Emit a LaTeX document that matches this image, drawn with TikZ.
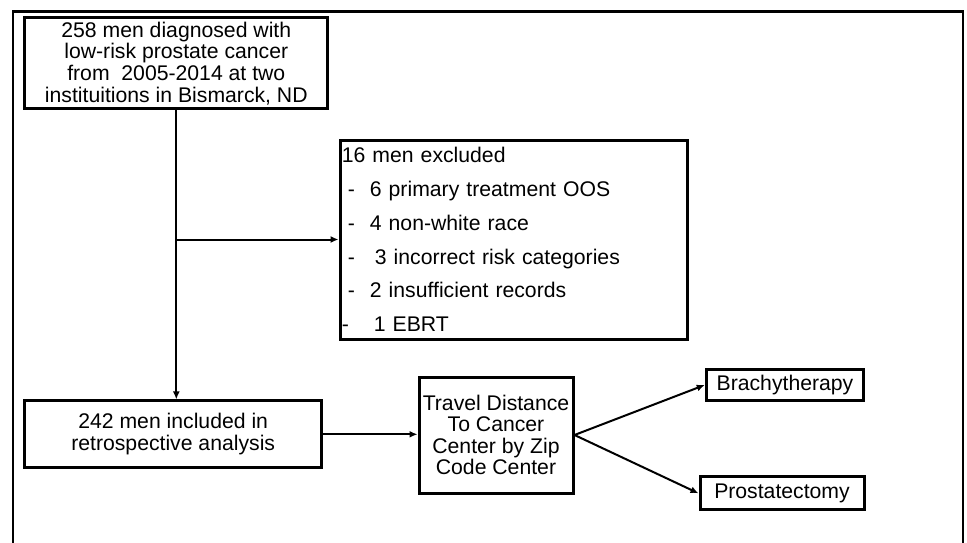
\documentclass[tikz,border=0pt]{standalone}
\usepackage{fontspec}
\setmainfont{Liberation Sans}
\usetikzlibrary{arrows.meta,positioning}

\begin{document}
\begin{tikzpicture}[x=1pt,y=-1pt,every node/.style={inner sep=1pt}]
\tikzstyle{block}=[draw,line width=3pt,align=center,font=\fontsize{21.2}{21.6}\selectfont]
\tikzstyle{arrow}=[draw,line width=2pt,-{Latex[length=8pt,width=7pt]}]
\useasboundingbox (0,0) rectangle (967,543);
\draw[line width=2.2pt] (13,560) -- (13,11.5) -- (963,11.5) -- (963,560);

\node[block,minimum width=302.7pt,minimum height=91.3pt](diag) at (176.3,63.3){258 men diagnosed with\\low-risk prostate cancer\\from\ \ 2005-2014 at two\\instituitions in Bismarck, ND};

\node[block,align=left,text width=344pt,inner xsep=1.8pt,minimum height=199pt,
  font=\fontsize{21.2}{33.7}\selectfont](excl) at (513.8,239.5){16 men excluded\\
  \hspace*{6pt}-\hspace{15pt}6 primary treatment OOS\\
  \hspace*{6pt}-\hspace{15pt}4 non-white race\\
  \hspace*{6pt}-\hspace{20pt}3 incorrect risk categories\\
  \hspace*{6pt}-\hspace{15pt}2 insufficient records\\
  -\hspace{25pt}1 EBRT};

\node[block,minimum width=297pt,minimum height=66.7pt](incl) at (173.2,434.3){242 men included in\\retrospective analysis};
\node[block,minimum width=154pt,minimum height=116pt](travel) at (496,435){Travel Distance\\To Cancer\\Center by Zip\\Code Center};
\node[block,minimum width=157.5pt,minimum height=31.7pt](brachy) at (785,385){Brachytherapy};
\node[block,minimum width=164pt,minimum height=33.3pt](prost) at (782,493.3){Prostatectomy};

\draw[arrow] (diag.south) -- (diag.south |- incl.north);
\draw[arrow] (diag.south |- excl.west) -- (excl.west);
\draw[arrow] (incl.east) -- (travel.west |- incl.east);
\draw[arrow] (travel.east) -- (brachy.west);
\draw[arrow] (travel.east) -- (prost.west);
\end{tikzpicture}
\end{document}
